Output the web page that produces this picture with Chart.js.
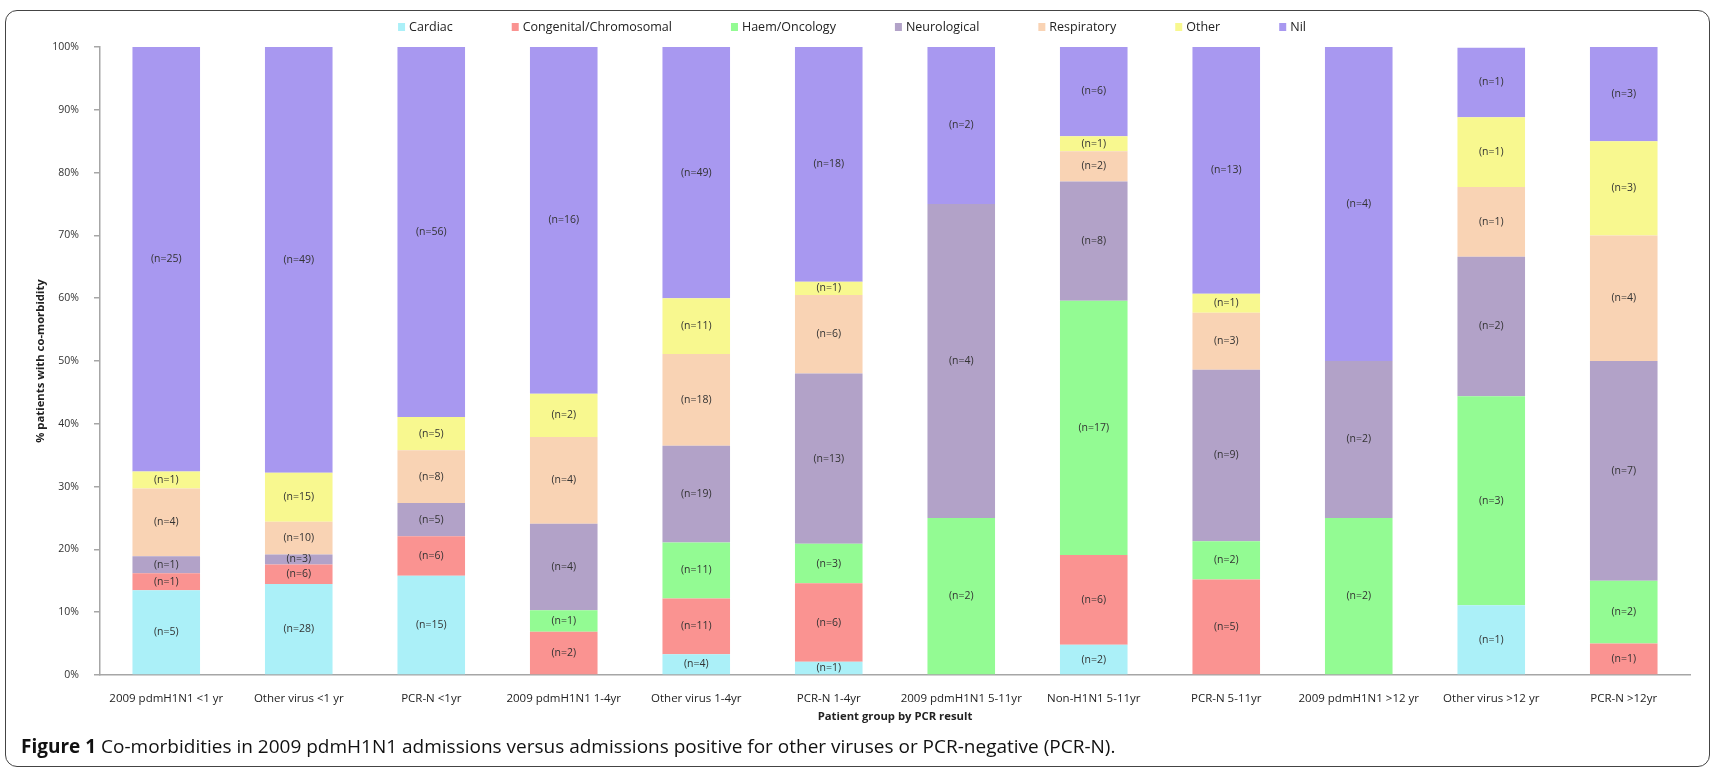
<!DOCTYPE html>
<html>
<head>
<meta charset="utf-8">
<script src="https://cdn.jsdelivr.net/npm/chart.js@4.4.1/dist/chart.umd.min.js"></script>
<style>
  body { margin: 0; background: #fff; width: 1716px; height: 770px; overflow: hidden; position: relative; font-family: 'Open Sans', sans-serif; }
  #frame { position: absolute; left: 5px; top: 10px; width: 1703px; height: 755px; border: 1.5px solid #444; border-radius: 12px; }
  #chart { position: absolute; left: 0; top: 0; }
  #caption { position: absolute; left: 21px; top: 733px; font-size: 19px; color: #111; white-space: nowrap; }
</style>
</head>
<body>
<div id="frame"></div>
<canvas id="chart" width="1716" height="770"></canvas>
<div id="caption"><b>Figure 1</b> Co-morbidities in 2009 pdmH1N1 admissions versus admissions positive for other viruses or PCR-negative (PCR-N).</div>
<script>
const groups = [
    "2009 pdmH1N1 <1 yr", "Other virus <1 yr", "PCR-N <1yr",
    "2009 pdmH1N1 1-4yr", "Other virus 1-4yr", "PCR-N 1-4yr",
    "2009 pdmH1N1 5-11yr", "Non-H1N1 5-11yr", "PCR-N 5-11yr",
    "2009 pdmH1N1 >12 yr", "Other virus >12 yr", "PCR-N >12yr"
]

// percent of patients in each group
const cardiac    = [13.5, 14.5, 15.8, 0, 3.3, 2.1, 0, 4.8, 0, 0, 11.1, 0]
const congenital = [2.7, 3.1, 6.3, 6.9, 8.9, 12.5, 0, 14.3, 15.2, 0, 0, 5.0]
const haem       = [0, 0, 0, 3.4, 8.9, 6.3, 25.0, 40.5, 6.1, 25.0, 33.3, 10.0]
const neuro      = [2.7, 1.6, 5.3, 13.8, 15.4, 27.1, 50.0, 19.0, 27.3, 25.0, 22.2, 35.0]
const resp       = [10.8, 5.2, 8.4, 13.8, 14.6, 12.5, 0, 4.8, 9.1, 0, 11.1, 20.0]
const other      = [2.7, 7.8, 5.3, 6.9, 8.9, 2.1, 0, 2.4, 3.0, 0, 11.1, 15.0]
const nil        = [67.6, 67.8, 58.9, 55.2, 40.0, 37.5, 25.0, 14.3, 39.4, 50.0, 11.1, 15.0]

// (n=..) labels printed on each segment
const cardiacN    = [5, 28, 15, 0, 4, 1, 0, 2, 0, 0, 1, 0]
const congenitalN = [1, 6, 6, 2, 11, 6, 0, 6, 5, 0, 0, 1]
const haemN       = [0, 0, 0, 1, 11, 3, 2, 17, 2, 2, 3, 2]
const neuroN      = [1, 3, 5, 4, 19, 13, 4, 8, 9, 2, 2, 7]
const respN       = [4, 10, 8, 4, 18, 6, 0, 2, 3, 0, 1, 4]
const otherN      = [1, 15, 5, 2, 11, 1, 0, 1, 1, 0, 1, 3]
const nilN        = [25, 49, 56, 16, 49, 18, 2, 6, 13, 4, 1, 3]

const yTicks = [0, 10, 20, 30, 40, 50, 60, 70, 80, 90, 100]

const series = [
    { label: "Cardiac", data: cardiac, n: cardiacN, color: "#abf0f8" },
    { label: "Congenital/Chromosomal", data: congenital, n: congenitalN, color: "#fa9391" },
    { label: "Haem/Oncology", data: haem, n: haemN, color: "#93fb93" },
    { label: "Neurological", data: neuro, n: neuroN, color: "#b2a2c8" },
    { label: "Respiratory", data: resp, n: respN, color: "#f9d3b4" },
    { label: "Other", data: other, n: otherN, color: "#f8f88f" },
    { label: "Nil", data: nil, n: nilN, color: "#a898f0" }
]

const FONT = "'Open Sans', sans-serif"

// legend row drawn above the plot, spaced like the original
const topLegend = {
    id: 'topLegend',
    afterDraw(chart) {
        const ctx = chart.ctx
        ctx.save()
        ctx.font = `12.5px ${FONT}`
        ctx.textBaseline = 'middle'
        const box = 7, gap = 4, spacing = 59
        const items = chart.data.datasets.map(ds => ({
            label: ds.label,
            color: ds.backgroundColor,
            w: box + gap + ctx.measureText(ds.label).width
        }))
        const total = items.reduce((s, it) => s + it.w, 0) + spacing * (items.length - 1)
        let x = 852 - total / 2
        const y = 27
        for (const it of items) {
            ctx.fillStyle = it.color
            ctx.fillRect(x, y - 4, box, 8)
            ctx.fillStyle = '#222'
            ctx.fillText(it.label, x + box + gap, y)
            x += it.w + spacing
        }
        ctx.restore()
    }
}

const countLabels = {
    id: 'countLabels',
    afterDatasetsDraw(chart) {
        const ctx = chart.ctx
        ctx.save()
        ctx.font = `10.5px ${FONT}`
        ctx.fillStyle = '#333'
        ctx.textAlign = 'center'
        ctx.textBaseline = 'middle'
        chart.data.datasets.forEach((ds, d) => {
            chart.getDatasetMeta(d).data.forEach((bar, i) => {
                const n = series[d].n[i]
                if (!n) return
                ctx.fillText(`(n=${n})`, bar.x, (bar.y + bar.base) / 2)
            })
        })
        ctx.restore()
    }
}

new Chart(document.getElementById('chart').getContext('2d'), {
    type: 'bar',
    data: {
        labels: groups,
        datasets: series.map(s => ({
            label: s.label,
            data: s.data,
            backgroundColor: s.color,
            borderWidth: 0,
            categoryPercentage: 1,
            barPercentage: 0.51
        }))
    },
    options: {
        responsive: false,
        animation: false,
        layout: { padding: { left: 30, right: 26, top: 47, bottom: 46 } },
        plugins: {
            legend: { display: false },
            tooltip: { enabled: false }
        },
        scales: {
            x: {
                stacked: true,
                grid: { display: false, drawTicks: false },
                border: { display: true, color: '#a6a6a6', width: 1.5 },
                ticks: { color: '#222', font: { family: FONT, size: 11.5 }, padding: 17, maxRotation: 0, autoSkip: false },
                title: { display: true, text: 'Patient group by PCR result', color: '#222', font: { family: FONT, size: 11.3, weight: 'bold' }, padding: 0 },
                afterFit: scale => { scale.height = 49 }
            },
            y: {
                stacked: true,
                min: 0,
                max: 100,
                afterBuildTicks: scale => { scale.ticks = yTicks.map(v => ({ value: v })) },
                grid: { drawOnChartArea: false, drawTicks: true, tickLength: 6, color: '#a6a6a6', lineWidth: 1.5 },
                border: { display: true, color: '#a6a6a6', width: 1.5 },
                ticks: { color: '#333', font: { family: FONT, size: 10.5 }, padding: 15, callback: v => v + '%' },
                title: { display: true, text: '% patients with co-morbidity', color: '#222', font: { family: FONT, size: 11.3, weight: 'bold' }, padding: 4 },
                afterFit: scale => { scale.width = 70 }
            }
        }
    },
    plugins: [topLegend, countLabels]
})
</script>
</body>
</html>
